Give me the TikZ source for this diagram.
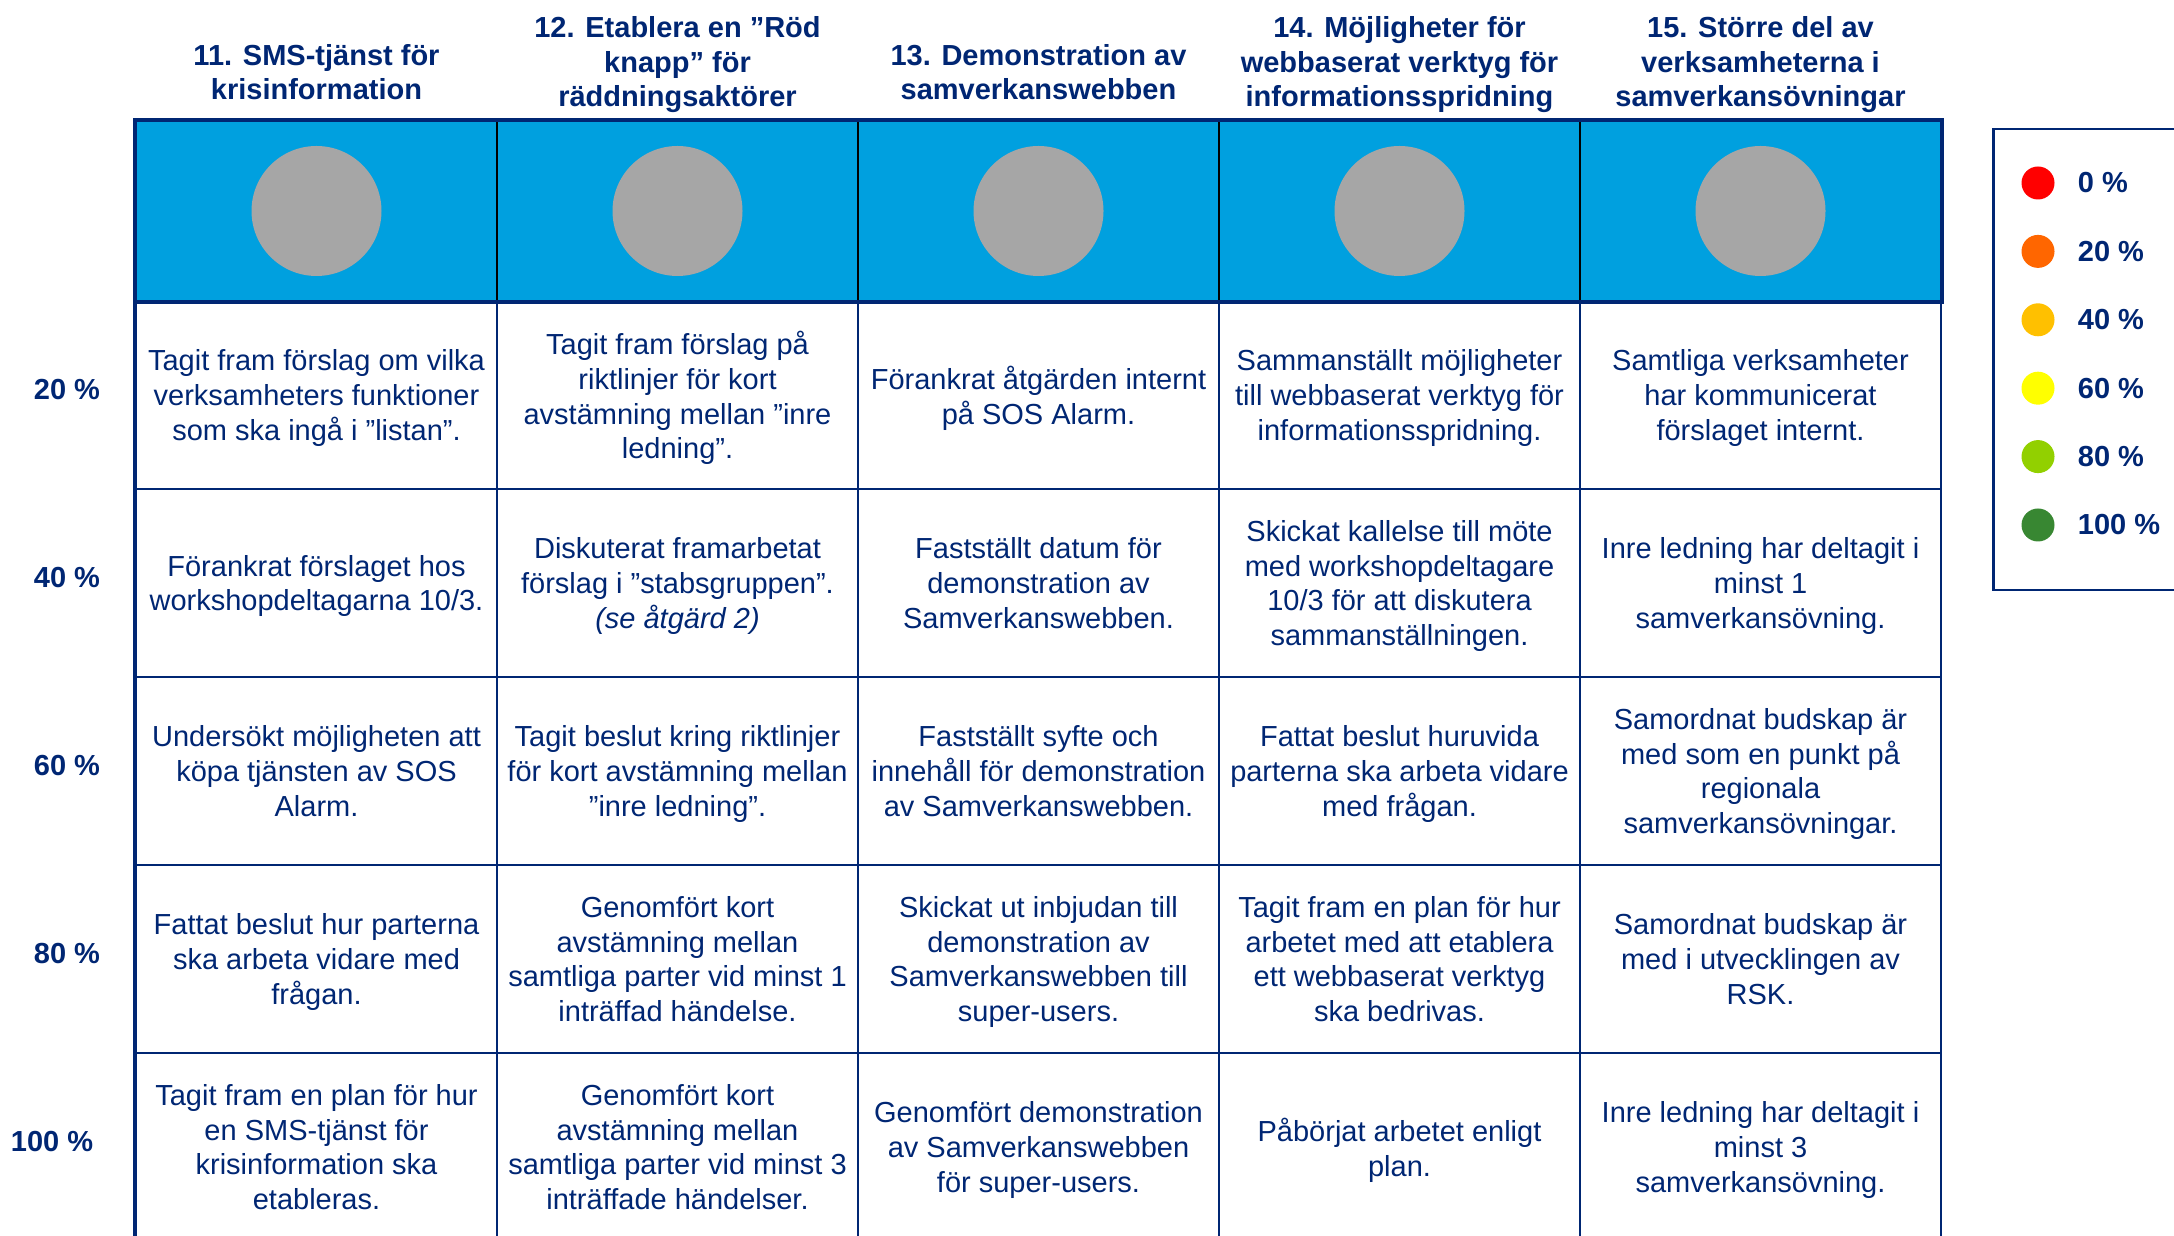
\documentclass[tikz,border=0pt]{standalone}
\usepackage{fontspec}
\setmainfont{Liberation Sans}
\definecolor{Navy}{RGB}{0, 38, 115}
\definecolor{SkyBlue}{RGB}{0, 160, 223}
\definecolor{DiscGray}{RGB}{166, 166, 166}
\definecolor{Pct0}{RGB}{255, 0, 0}
\definecolor{Pct20}{RGB}{255, 102, 0}
\definecolor{Pct40}{RGB}{255, 192, 0}
\definecolor{Pct60}{RGB}{255, 255, 0}
\definecolor{Pct80}{RGB}{146, 208, 0}
\definecolor{Pct100}{RGB}{56, 135, 50}
\usetikzlibrary{positioning}

\begin{document}
\begin{tikzpicture}[x=1pt, y=1pt,
    every node/.style={text=Navy, font={\fontsize{29}{34.7}\selectfont}},
    cell/.style={draw=Navy, line width=2.5pt, minimum width=361pt, minimum height=188pt, inner sep=0pt, align=center, text depth=0pt},
    hdrcell/.style={draw=black, line width=2pt, fill=SkyBlue, minimum width=361pt, minimum height=180pt, inner sep=0pt},
    disc/.style={circle, fill=DiscGray, minimum size=130pt, inner sep=0pt},
    title/.style={font={\fontsize{29}{34.7}\selectfont\bfseries}, align=center, inner sep=0pt, anchor=south, execute at end node={\strut}},
    rowlab/.style={font={\fontsize{29}{34.7}\selectfont\bfseries}, inner sep=0pt},
    keydot/.style={circle, minimum size=33pt, inner sep=0pt},
    keylab/.style={font={\fontsize{29}{34.7}\selectfont\bfseries}, inner sep=0pt}]
    \useasboundingbox (0,0) rectangle (2174,1235);

    % 20 %
    \node[cell] (r20c11) at (316.5,840) {Tagit fram förslag om vilka\\verksamheters funktioner\\som ska ingå i ”listan”.};
    \node[cell] (r20c12) at (677.5,840) {Tagit fram förslag på\\riktlinjer för kort\\avstämning mellan ”inre\\ledning”.};
    \node[cell] (r20c13) at (1038.5,840) {Förankrat åtgärden internt\\på SOS Alarm.};
    \node[cell] (r20c14) at (1399.5,840) {Sammanställt möjligheter\\till webbaserat verktyg för\\informationsspridning.};
    \node[cell] (r20c15) at (1760.5,840) {Samtliga verksamheter\\har kommunicerat\\förslaget internt.};

    % 40 %
    \node[cell] (r40c11) at (316.5,652) {Förankrat förslaget hos\\workshopdeltagarna 10/3.};
    \node[cell] (r40c12) at (677.5,652) {Diskuterat framarbetat\\förslag i ”stabsgruppen”.\\\textit{(se åtgärd 2)}};
    \node[cell] (r40c13) at (1038.5,652) {Fastställt datum för\\demonstration av\\Samverkanswebben.};
    \node[cell] (r40c14) at (1399.5,652) {Skickat kallelse till möte\\med workshopdeltagare\\10/3 för att diskutera\\sammanställningen.};
    \node[cell] (r40c15) at (1760.5,652) {Inre ledning har deltagit i\\minst 1\\samverkansövning.};

    % 60 %
    \node[cell] (r60c11) at (316.5,464) {Undersökt möjligheten att\\köpa tjänsten av SOS\\Alarm.};
    \node[cell] (r60c12) at (677.5,464) {Tagit beslut kring riktlinjer\\för kort avstämning mellan\\”inre ledning”.};
    \node[cell] (r60c13) at (1038.5,464) {Fastställt syfte och\\innehåll för demonstration\\av Samverkanswebben.};
    \node[cell] (r60c14) at (1399.5,464) {Fattat beslut huruvida\\parterna ska arbeta vidare\\med frågan.};
    \node[cell] (r60c15) at (1760.5,464) {Samordnat budskap är\\med som en punkt på\\regionala\\samverkansövningar.};

    % 80 %
    \node[cell] (r80c11) at (316.5,276) {Fattat beslut hur parterna\\ska arbeta vidare med\\frågan.};
    \node[cell] (r80c12) at (677.5,276) {Genomfört kort\\avstämning mellan\\samtliga parter vid minst 1\\inträffad händelse.};
    \node[cell] (r80c13) at (1038.5,276) {Skickat ut inbjudan till\\demonstration av\\Samverkanswebben till\\super-users.};
    \node[cell] (r80c14) at (1399.5,276) {Tagit fram en plan för hur\\arbetet med att etablera\\ett webbaserat verktyg\\ska bedrivas.};
    \node[cell] (r80c15) at (1760.5,276) {Samordnat budskap är\\med i utvecklingen av\\RSK.};

    % 100 %
    \node[cell] (r100c11) at (316.5,88) {Tagit fram en plan för hur\\en SMS-tjänst för\\krisinformation ska\\etableras.};
    \node[cell] (r100c12) at (677.5,88) {Genomfört kort\\avstämning mellan\\samtliga parter vid minst 3\\inträffade händelser.};
    \node[cell] (r100c13) at (1038.5,88) {Genomfört demonstration\\av Samverkanswebben\\för super-users.};
    \node[cell] (r100c14) at (1399.5,88) {Påbörjat arbetet enligt\\plan.};
    \node[cell] (r100c15) at (1760.5,88) {Inre ledning har deltagit i\\minst 3\\samverkansövning.};

    \draw[Navy, line width=4.5pt] (r20c11.north west) -- (r100c11.south west);

    % header band
    \node[hdrcell] (hd11) at (316.5,1024) {};
    \node[hdrcell] (hd12) at (677.5,1024) {};
    \node[hdrcell] (hd13) at (1038.5,1024) {};
    \node[hdrcell] (hd14) at (1399.5,1024) {};
    \node[hdrcell] (hd15) at (1760.5,1024) {};
    \draw[Navy, line width=4.5pt] (hd11.north west) rectangle (hd15.south east);
    \node[disc] (d11) at (hd11) {};
    \node[disc] (d12) at (hd12) {};
    \node[disc] (d13) at (hd13) {};
    \node[disc] (d14) at (hd14) {};
    \node[disc] (d15) at (hd15) {};

    \node[title, above=9.5pt of hd11] (t11) {11. SMS-tjänst för\\krisinformation};
    \node[title, above=2.5pt of hd12] (t12) {12. Etablera en ”Röd\\knapp” för\\räddningsaktörer};
    \node[title, above=9.5pt of hd13] (t13) {13. Demonstration av\\samverkanswebben};
    \node[title, above=2.5pt of hd14] (t14) {14. Möjligheter för\\webbaserat verktyg för\\informationsspridning};
    \node[title, above=2.5pt of hd15] (t15) {15. Större del av\\verksamheterna i\\samverkansövningar};

    % row labels
    \node[rowlab] (l20) at (67,845) {20 \%};
    \node[rowlab] (l40) at (67,657) {40 \%};
    \node[rowlab] (l60) at (67,469) {60 \%};
    \node[rowlab] (l80) at (67,281) {80 \%};
    \node[rowlab] (l100) at (52,93) {100 \%};

    % legend
    \node[draw=Navy, line width=2.5pt, minimum width=230pt, minimum height=461pt, inner sep=0pt, anchor=north west] (leg) at (1992,1107) {};
    \node[keydot, fill=Pct0] (k0) at (2038,1052) {};
    \node[keydot, fill=Pct20] (k20) at (2038,983.6) {};
    \node[keydot, fill=Pct40] (k40) at (2038,915.2) {};
    \node[keydot, fill=Pct60] (k60) at (2038,846.8) {};
    \node[keydot, fill=Pct80] (k80) at (2038,778.4) {};
    \node[keydot, fill=Pct100] (k100) at (2038,710) {};
    \node[keylab, right=23pt of k0] (kt0) {0 \%};
    \node[keylab, right=23pt of k20] (kt20) {20 \%};
    \node[keylab, right=23pt of k40] (kt40) {40 \%};
    \node[keylab, right=23pt of k60] (kt60) {60 \%};
    \node[keylab, right=23pt of k80] (kt80) {80 \%};
    \node[keylab, right=23pt of k100] (kt100) {100 \%};
\end{tikzpicture}
\end{document}
